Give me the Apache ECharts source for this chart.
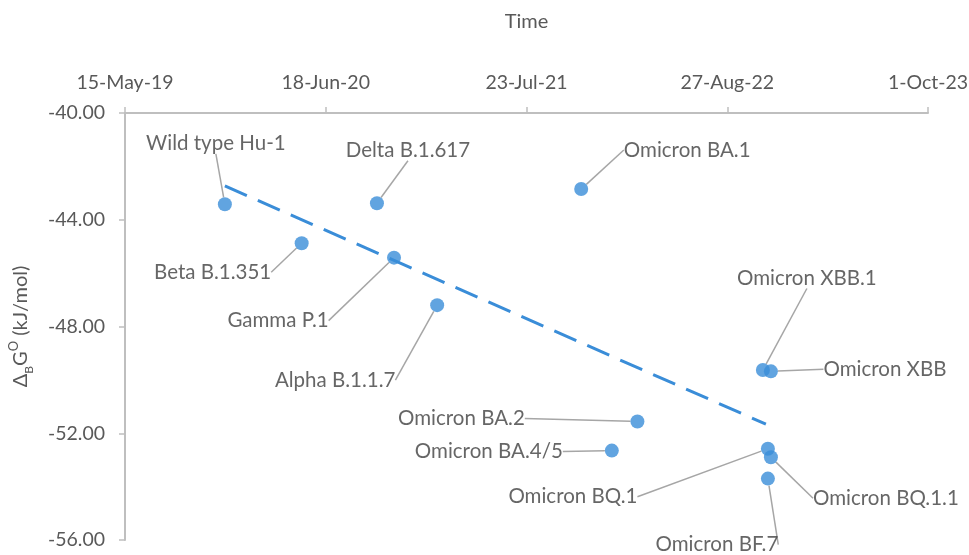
<!DOCTYPE html>
<html>
<head>
<meta charset="utf-8">
<script src="https://cdn.jsdelivr.net/npm/echarts@6/dist/echarts.min.js"></script>
<style>
  html, body { margin: 0; padding: 0; background: #fff; }
  #chart { width: 969px; height: 555px; }
</style>
</head>
<body>
<div id="chart"></div>
<script>
// variants, first-seen dates and binding free energy (kJ/mol)
const variantNames = [
  'Wild type Hu-1', 'Beta B.1.351', 'Delta B.1.617', 'Gamma P.1', 'Alpha B.1.1.7',
  'Omicron BA.1', 'Omicron BA.4/5', 'Omicron BA.2', 'Omicron XBB.1', 'Omicron XBB',
  'Omicron BQ.1', 'Omicron BQ.1.1', 'Omicron BF.7'
]
const variantDates = [
  '2019-11-30', '2020-05-01', '2020-09-28', '2020-11-01', '2021-01-26',
  '2021-11-09', '2022-01-09', '2022-03-01', '2022-11-06', '2022-11-22',
  '2022-11-16', '2022-11-22', '2022-11-16'
]
const deltaG = [
  -43.42, -44.88, -43.38, -45.42, -47.20,
  -42.85, -52.65, -51.56, -49.63, -49.68,
  -52.58, -52.90, -53.70
]
// linear trendline end points as drawn
const trendDates = ['2019-11-30', '2022-11-12']
const trendValues = [-42.73, -51.66]

// axis ticks (Excel date serials)
const xMin = 43600, xMax = 45200, xStep = 400
const yMin = -56, yMax = -40, yStep = 4

// label offsets from each point (dx, dy), same order as variantNames
const labelOffsets = [
  [-9, -61], [-89, 29], [31, -53], [-116, 63], [-102, 75],
  [106, -39], [-123, 1], [-176, -3], [44, -92], [114, -2],
  [-195, 48], [115, 41], [-51, 66]
]

const MONTHS = ['Jan','Feb','Mar','Apr','May','Jun','Jul','Aug','Sep','Oct','Nov','Dec']
const EXCEL_EPOCH = Date.UTC(1899, 11, 30)
const toSerial = s => (Date.parse(s + 'T00:00:00Z') - EXCEL_EPOCH) / 86400000
const fmtSerial = v => {
  const d = new Date(EXCEL_EPOCH + v * 86400000)
  return d.getUTCDate() + '-' + MONTHS[d.getUTCMonth()] + '-' + String(d.getUTCFullYear()).slice(2)
}

const blue = '#3a8dd8'
const axisGray = '#bfbfbf'
const textGray = '#595959'
const font = 'Lato, "Noto Sans", sans-serif'

const chart = echarts.init(document.getElementById('chart'))

const option = {
  backgroundColor: '#fff',
  animation: false,
  grid: { left: 125, right: 41, top: 113, bottom: 15, outerBoundsMode: 'none', containLabel: false },
  xAxis: {
    type: 'value',
    position: 'top',
    min: xMin,
    max: xMax,
    interval: xStep,
    name: 'Time',
    nameLocation: 'middle',
    nameGap: 81,
    nameTextStyle: { color: textGray, fontSize: 20, fontFamily: font },
    axisLine: { show: true, onZero: false, lineStyle: { color: axisGray, width: 2 } },
    axisTick: { show: true, length: 6, lineStyle: { color: axisGray, width: 1.5 } },
    axisLabel: { color: textGray, fontSize: 19.5, fontFamily: font, margin: 20, formatter: fmtSerial },
    splitLine: { show: false }
  },
  yAxis: {
    type: 'value',
    min: yMin,
    max: yMax,
    interval: yStep,
    name: '{n|Δ}{sub|B}{n|G}{sup|O}{n| (kJ/mol)}',
    nameLocation: 'middle',
    nameGap: 90,
    nameTextStyle: {
      color: textGray, fontSize: 20, fontFamily: font,
      rich: {
        n: { fontSize: 20, color: textGray, fontFamily: font, lineHeight: 28 },
        sub: { fontSize: 12, color: textGray, fontFamily: font, verticalAlign: 'bottom', lineHeight: 28 },
        sup: { fontSize: 13, color: textGray, fontFamily: font, verticalAlign: 'top', lineHeight: 28 }
      }
    },
    axisLine: { show: true, onZero: false, lineStyle: { color: axisGray, width: 2 } },
    axisTick: { show: true, length: 6, lineStyle: { color: axisGray, width: 1.5 } },
    axisLabel: { color: textGray, fontSize: 19.5, fontFamily: font, margin: 20, formatter: v => v.toFixed(2) },
    splitLine: { show: false }
  },
  series: [
    {
      type: 'line',
      data: trendDates.map((d, i) => [toSerial(d), trendValues[i]]),
      symbol: 'none',
      lineStyle: { color: blue, width: 3, type: [24, 12] },
      silent: true,
      z: 1
    },
    {
      type: 'scatter',
      data: variantNames.map((n, i) => ({ name: n, value: [toSerial(variantDates[i]), deltaG[i]] })),
      symbol: 'circle',
      symbolSize: 14,
      itemStyle: { color: blue },
      z: 3,
      label: {
        show: true,
        position: 'inside',
        formatter: p => p.name,
        color: '#404040',
        fontSize: 20.5,
        fontFamily: font
      },
      labelLine: {
        show: true,
        lineStyle: { color: '#a6a6a6', width: 1.5 }
      },
      labelLayout: p => {
        const o = labelOffsets[p.dataIndex]
        return { dx: o[0], dy: o[1] }
      }
    }
  ]
}

chart.setOption(option)
</script>
</body>
</html>
